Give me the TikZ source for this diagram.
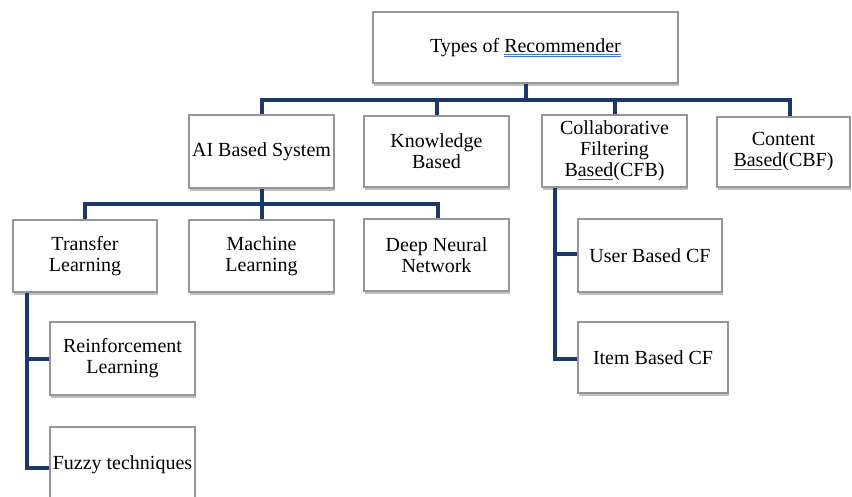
\documentclass[tikz,border=0pt]{standalone}
\usepackage{fontspec}
\setmainfont{Liberation Serif}
\usetikzlibrary{shadows}
\definecolor{navy}{RGB}{28,56,104}
\definecolor{boxgray}{RGB}{150,150,150}
\definecolor{ulb}{RGB}{70,120,220}
\definecolor{ulr}{RGB}{225,30,30}
\newcommand\ulblue[1]{\setbox0=\hbox{#1}\rlap{\textcolor{ulb}{\rule[-2.6pt]{\wd0}{1pt}}}\box0}
\newcommand\uldblue[1]{\setbox0=\hbox{#1}\rlap{\textcolor{ulb}{\rule[-2.4pt]{\wd0}{0.9pt}}}\rlap{\textcolor{ulb}{\rule[-4.6pt]{\wd0}{0.9pt}}}\box0}
\newcommand\ulred[1]{\setbox0=\hbox{#1}\rlap{\textcolor{ulr}{\rule[-3pt]{\wd0}{1.2pt}}}\box0}
\tikzset{
  box/.style={draw=boxgray, line width=1.3pt, fill=white, align=center,
    font=\fontsize{20}{21}\selectfont, inner sep=0pt,
    drop shadow={shadow xshift=1pt, shadow yshift=-3pt, opacity=0.45, fill=black!55}},
  conn/.style={draw=navy, line width=4pt, line join=miter}
}
\begin{document}
\begin{tikzpicture}[x=1pt,y=-1pt]
\clip (0,0) rectangle (852,497);
\fill[white] (0,0) rectangle (852,497);
% nodes
\node[box, minimum width=305pt, minimum height=71pt] (top) at (525.5,47.5) {Types of \uldblue{Recommender}};
\node[box, minimum width=145pt, minimum height=73pt] (ai) at (261.5,151.5) {AI Based System};
\node[box, minimum width=145pt, minimum height=71pt] (kb) at (436.5,151.5) {Knowledge\\Based};
\node[box, minimum width=145pt, minimum height=72pt] (cfb) at (614.5,151) {Collaborative\\Filtering\\B\ulred{ased}(CFB)};
\node[box, minimum width=133pt, minimum height=70pt] (cbf) at (783.5,152) {Content\\\ulblue{Based}(CBF)};
\node[box, minimum width=144pt, minimum height=72pt] (tl) at (85,256) {Transfer\\Learning};
\node[box, minimum width=145pt, minimum height=72pt] (ml) at (261.5,256) {Machine\\Learning};
\node[box, minimum width=145pt, minimum height=72pt] (dnn) at (436.5,255) {Deep Neural\\Network};
\node[box, minimum width=145pt, minimum height=73pt] (rl) at (122.5,358.5) {Reinforcement\\Learning};
\node[box, minimum width=145pt, minimum height=76pt] (fz) at (122.5,465) {Fuzzy techniques};
\node[box, minimum width=144pt, minimum height=73pt] (ub) at (650,255.5) {User Based CF};
\node[box, minimum width=150pt, minimum height=71pt] (ib) at (653,357.5) {Item Based CF};
% level 1 connectors
\path[conn] (top.south) -- ++(0,16) -| (ai.north);
\path[conn] (top.south) -- ++(0,16) -| (kb.north);
\path[conn] (top.south) -- ++(0,16) -| (cfb.north);
\path[conn] (top.south) -- ++(0,16) -| ([xshift=6.5pt]cbf.north);
% level 2 connectors
\path[conn] (ai.south) -- ++(0,15) -| (tl.north);
\path[conn] (ai.south) -- ++(0,15) -| (ml.north);
\path[conn] (ai.south) -- ++(0,15) -| ([xshift=1.5pt]dnn.north);
% side connectors
\coordinate (tlx) at ([xshift=-58pt]tl.south);
\path[conn] (tlx) |- (rl.west);
\path[conn] (tlx) |- ([yshift=-3pt]fz.west);
\coordinate (cfx) at ([xshift=-59.5pt]cfb.south);
\path[conn] (cfx) |- ([yshift=1.5pt]ub.west);
\path[conn] (cfx) |- ([yshift=-1.5pt]ib.west);
\end{tikzpicture}
\end{document}
